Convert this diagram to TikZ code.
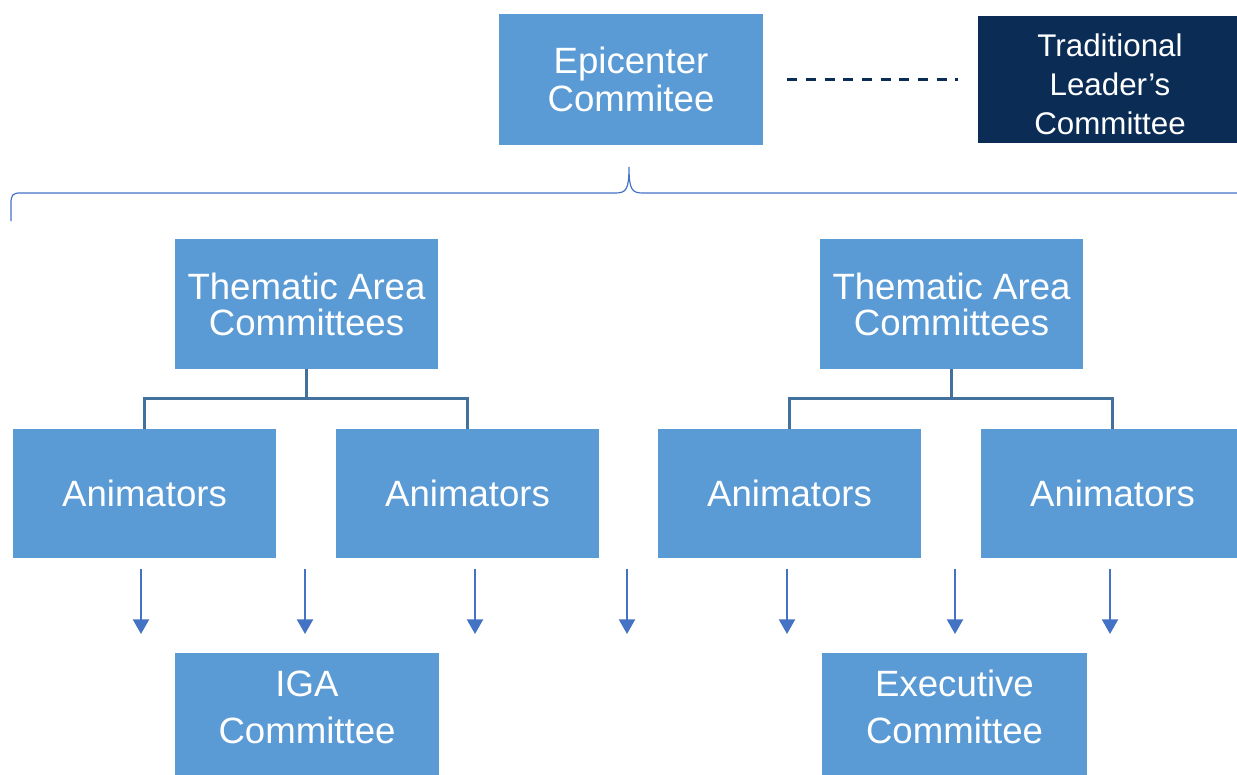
\documentclass[tikz,border=0pt]{standalone}
\usepackage{fontspec}
\setmainfont{Liberation Sans}
\usetikzlibrary{arrows.meta}
\definecolor{boxblue}{HTML}{5B9BD5}
\definecolor{navy}{HTML}{0B2D55}
\definecolor{linkblue}{HTML}{41719C}
\definecolor{arrowblue}{HTML}{4472C4}
\begin{document}
\begin{tikzpicture}[x=0.75pt,y=-0.75pt,
  box/.style={fill=boxblue, text=white, inner sep=0pt, align=center,
    minimum width=263*0.75pt, minimum height=130*0.75pt,
    font=\fontsize{27.45}{27}\selectfont},
  boxtext/.style={text=white, inner sep=0pt, align=center,
    font=\fontsize{27.45}{35.25}\selectfont},
  elbow/.style={draw=linkblue, line width=1.9pt},
  flowdown/.style={draw=arrowblue, line width=1.7pt,
    -{Triangle[width=12pt,length=11pt]}},
  dashlink/.style={draw=navy, line width=1.8pt, dash pattern=on 7.5pt off 6.5pt},
  bracket/.style={draw=arrowblue, line width=0.9pt}]
\clip (0,0) rectangle (1237,774);
% top row
\node[box, minimum width=264*0.75pt, minimum height=131*0.75pt,
  font=\fontsize{27.45}{28.3}\selectfont] (epi) at (631,79.5) {Epicenter\\Commitee};
\node[box, fill=navy, minimum width=264*0.75pt, minimum height=127*0.75pt] (trad) at (1110,79.5) {};
\node[boxtext, font=\fontsize{23.5}{29.25}\selectfont] (tradtext) at (1110,84) {Traditional\\Leader’s\\Committee};
\draw[dashlink, shorten <=24*0.75pt, shorten >=20*0.75pt] (epi.east) -- (trad.west);
% brace
\draw[bracket] (11,221) -- (11,203) .. controls (11,195) and (13,193) .. (20,193)
  -- (615,193) .. controls (626,193) and (629,190) .. (629,167)
  .. controls (629,190) and (632,193) .. (643,193)
  -- (1238,193) .. controls (1245,193) and (1247,195) .. (1247,203) -- (1247,221);
% thematic committees
\node[box] (thL) at (306.5,304) {Thematic Area\\Committees};
\node[box] (thR) at (951.5,304) {Thematic Area\\Committees};
% animators
\node[box, minimum height=129*0.75pt] (an1) at (144.5,493.5) {Animators};
\node[box, minimum height=129*0.75pt] (an2) at (467.5,493.5) {Animators};
\node[box, minimum height=129*0.75pt] (an3) at (789.5,493.5) {Animators};
\node[box, minimum height=129*0.75pt] (an4) at (1112.5,493.5) {Animators};
% elbow connectors
\draw[elbow] (thL.south) -- ++(0,29) -| (an1.north);
\draw[elbow] (thL.south) -- ++(0,29) -| (an2.north);
\draw[elbow] (thR.south) -- ++(0,29) -| (an3.north);
\draw[elbow] (thR.south) -- ++(0,29) -| (an4.north);
% bottom committees
\node[box, minimum width=264*0.75pt] (iga) at (307,718) {};
\node[boxtext] (igatext) at (307,707) {IGA\\Committee};
\node[box, minimum width=265*0.75pt] (exe) at (954.5,718) {};
\node[boxtext] (exetext) at (954.5,707) {Executive\\Committee};
% down arrows
\foreach \i/\x in {1/141,2/305,3/475,4/627,5/787,6/955,7/1110}{
  \coordinate (s\i) at (\x,569);
  \coordinate (e\i) at (\x,634);
  \draw[flowdown] (s\i) -- (e\i);
}
\end{tikzpicture}
\end{document}
